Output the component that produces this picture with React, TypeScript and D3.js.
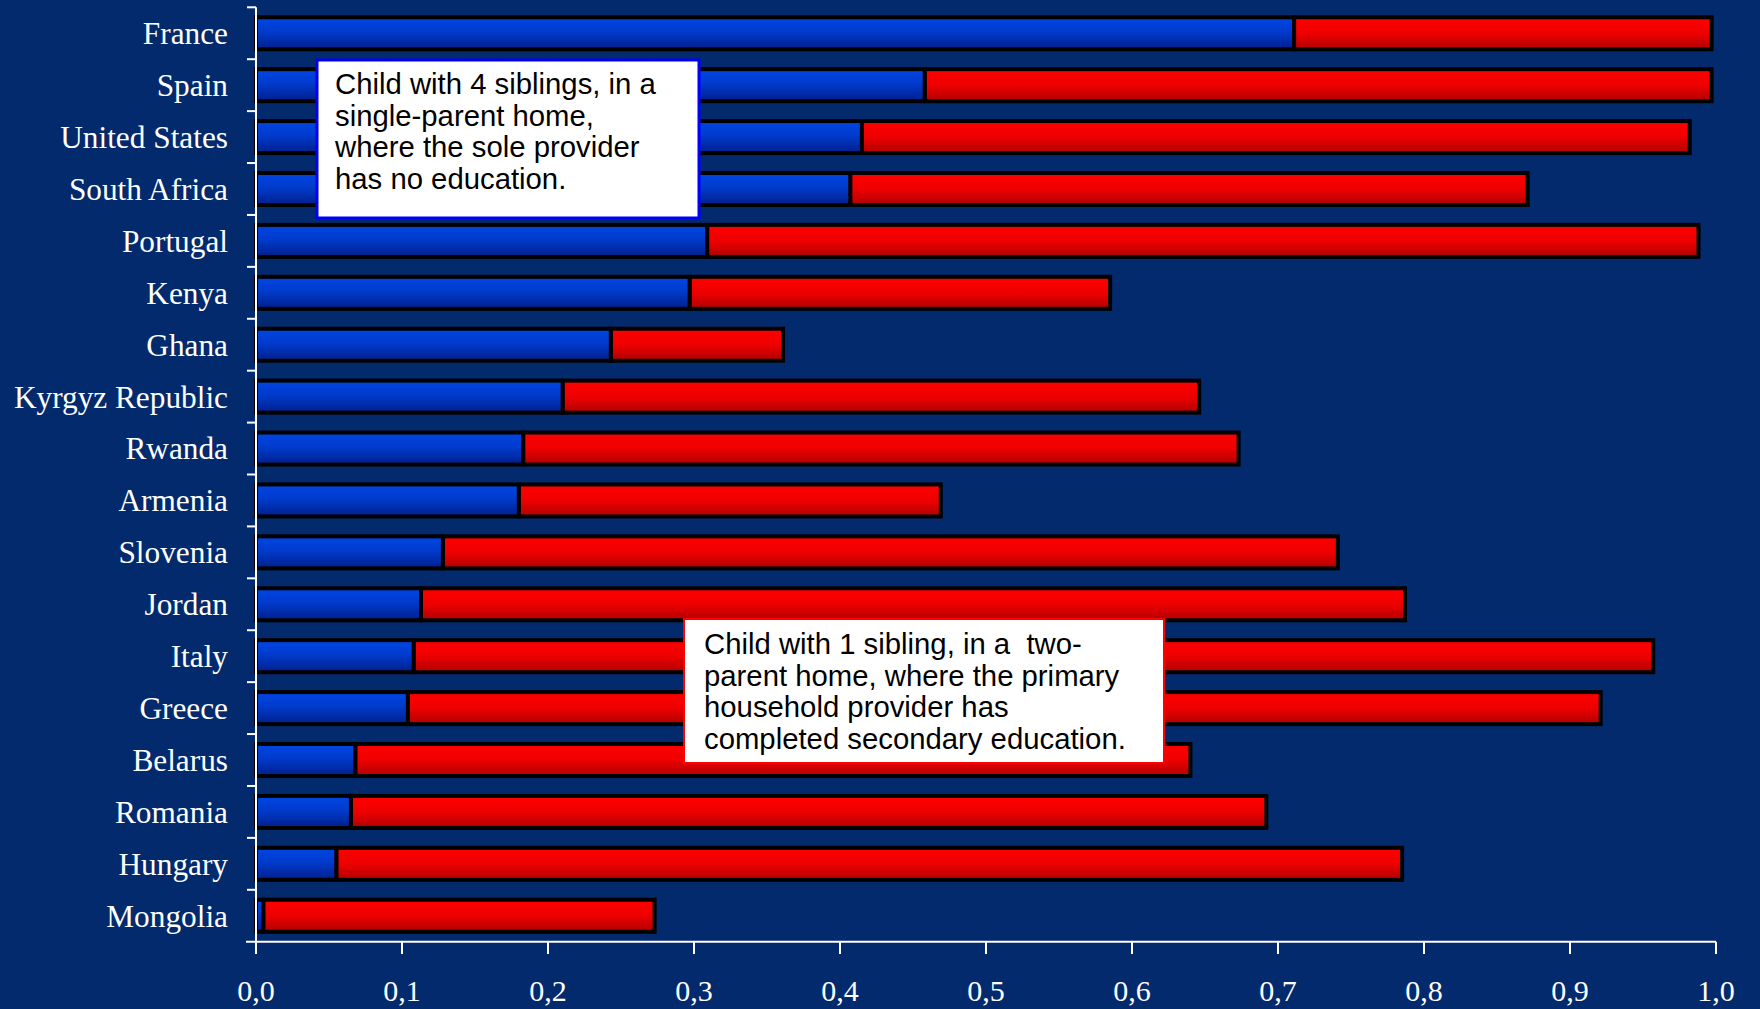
import React from "react";
import * as d3 from "d3";

const countries = [
  "France", "Spain", "United States", "South Africa", "Portugal", "Kenya", "Ghana",
  "Kyrgyz Republic", "Rwanda", "Armenia", "Slovenia", "Jordan", "Italy", "Greece",
  "Belarus", "Romania", "Hungary", "Mongolia",
];
// probability for the disadvantaged child (blue segment end)
const disadvantaged = [0.711, 0.458, 0.415, 0.407, 0.309, 0.297, 0.243, 0.21, 0.183, 0.18, 0.128, 0.113, 0.108, 0.104, 0.068, 0.065, 0.055, 0.005];
// probability for the advantaged child (red segment end)
const advantaged = [0.997, 0.997, 0.982, 0.871, 0.988, 0.585, 0.361, 0.646, 0.673, 0.469, 0.741, 0.787, 0.957, 0.921, 0.64, 0.692, 0.785, 0.273];
const xTicks = [0, 0.1, 0.2, 0.3, 0.4, 0.5, 0.6, 0.7, 0.8, 0.9, 1.0];
const note1 = ["Child with 4 siblings, in a", "single-parent home,", "where the sole provider", "has no education."];
const note2 = ["Child with 1 sibling, in a  two-", "parent home, where the primary", "household provider has", "completed secondary education."];

const W = 1760, H = 1009;
const BG = "#022a6c";

export default function App() {
  const x = d3.scaleLinear().domain([0, 1]).range([256, 1716]);
  const y = d3.scaleBand<string>().domain(countries).range([7.3, 941.7]).paddingInner(0.306).paddingOuter(0.153);
  const fmt = (v: number) => v.toFixed(1).replace(".", ",");
  const step = y.step();
  const bh = y.bandwidth();
  const sw = 4;

  return (
    <svg width={W} height={H} style={{ position: "absolute", left: 0, top: 0 }}>
      <defs>
        <linearGradient id="gBlue" x1="0" y1="0" x2="0" y2="1">
          <stop offset="0%" stopColor="#0046e4" />
          <stop offset="45%" stopColor="#003bcc" />
          <stop offset="100%" stopColor="#001f8c" />
        </linearGradient>
        <linearGradient id="gRed" x1="0" y1="0" x2="0" y2="1">
          <stop offset="0%" stopColor="#ff0000" />
          <stop offset="50%" stopColor="#ee0000" />
          <stop offset="100%" stopColor="#b00000" />
        </linearGradient>
      </defs>
      <rect width={W} height={H} fill={BG} />

      {/* bars */}
      {countries.map((c, i) => {
        const yy = y(c)!;
        return (
          <g key={c}>
            <rect x={x(disadvantaged[i])} y={yy + sw / 2} width={x(advantaged[i]) - x(disadvantaged[i])} height={bh - sw}
              fill="url(#gRed)" stroke="#000" strokeWidth={sw} />
            <rect x={x(0)} y={yy + sw / 2} width={x(disadvantaged[i]) - x(0)} height={bh - sw}
              fill="url(#gBlue)" stroke="#000" strokeWidth={sw} />
          </g>
        );
      })}

      {/* y axis */}
      <line x1={x(0)} x2={x(0)} y1={y.range()[0]} y2={941.7} stroke="#fff" strokeWidth={2} />
      {d3.range(countries.length).map((i) => {
        const yy = y.range()[0] + i * step;
        return <line key={i} x1={x(0) - 9} x2={x(0)} y1={yy} y2={yy} stroke="#fff" strokeWidth={2} />;
      })}
      {countries.map((c) => (
        <text key={c} x={228} y={y(c)! + bh / 2} dy="0.35em" textAnchor="end" fill="#fff"
          fontFamily="'Liberation Serif', 'Times New Roman', serif" fontSize={31.3}>{c}</text>
      ))}

      {/* x axis */}
      <line x1={x(0) - 10} x2={x(1)} y1={941.7} y2={941.7} stroke="#fff" strokeWidth={2} />
      {xTicks.map((t) => (
        <g key={t}>
          <line x1={x(t)} x2={x(t)} y1={941.7} y2={954} stroke="#fff" strokeWidth={2} />
          <text x={x(t)} y={990} dy="0.35em" textAnchor="middle" fill="#fff"
            fontFamily="'Liberation Serif', 'Times New Roman', serif" fontSize={30}>{fmt(t)}</text>
        </g>
      ))}

      {/* annotations */}
      <rect x={317} y={60} width={382} height={158} fill="#fff" stroke="#0000ff" strokeWidth={3} />
      {note1.map((s, i) => (
        <text key={i} x={335} y={84 + i * 31.5} dy="0.35em" fill="#000" style={{ whiteSpace: "pre" }}
          fontFamily="'Liberation Sans', Arial, sans-serif" fontSize={29.3}>{s}</text>
      ))}
      <rect x={684} y={619} width={480} height={144} fill="#fff" stroke="#ff0000" strokeWidth={2} />
      {note2.map((s, i) => (
        <text key={i} x={704} y={644 + i * 31.5} dy="0.35em" fill="#000" style={{ whiteSpace: "pre" }}
          fontFamily="'Liberation Sans', Arial, sans-serif" fontSize={29.3}>{s}</text>
      ))}
    </svg>
  );
}
